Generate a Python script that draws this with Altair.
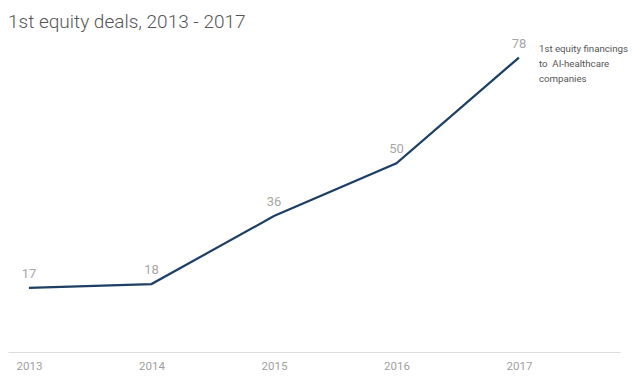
import altair as alt
import pandas as pd

years = [2013, 2014, 2015, 2016, 2017]
deals = [17, 18, 36, 50, 78]
note_lines = ["1st equity financings", "to\u00a0 AI-healthcare", "companies"]

df = pd.DataFrame({"year": years, "deals": deals})
note_df = pd.DataFrame({"year": [years[-1]], "deals": [deals[-1]], "note": [note_lines]})

FONT = "Roboto"

x = alt.X("year:Q",
          scale=alt.Scale(domain=[2012.829, 2017.825], nice=False, zero=False),
          axis=alt.Axis(values=years, format="d", title=None, grid=False, ticks=False,
                        domainColor="#dddddd", domainWidth=1, labelColor="#a0a0a0",
                        labelFontSize=11.5, labelFont=FONT, labelPadding=8))
y = alt.Y("deals:Q", scale=alt.Scale(domain=[0, 80], nice=False), axis=None)

base = alt.Chart(df).encode(x=x, y=y)

line = base.mark_line(color="#1d3f66", strokeWidth=2.2)
labels = base.mark_text(baseline="bottom", dy=-7, fontSize=13, color="#a6a6a6", font=FONT).encode(
    text=alt.Text("deals:Q"))
note = alt.Chart(note_df).mark_text(align="left", baseline="top", dx=20, dy=-14, fontSize=9.7,
                                    lineHeight=15, color="#555555", font=FONT).encode(
    x=x, y=y, text="note")

chart = alt.layer(line, labels, note).properties(
    width=612, height=302,
    padding={"left": 0, "top": 42, "right": 12, "bottom": 21},
    autosize=alt.AutoSizeParams(type="none"),
    title=alt.Title("1st equity deals, 2013 - 2017", anchor="start", font=FONT, fontSize=19,
                    fontWeight=300, color="#555555", offset=6),
).configure_view(stroke=None)

chart.save("out.html", embed_options={"renderer": "svg", "actions": False})
